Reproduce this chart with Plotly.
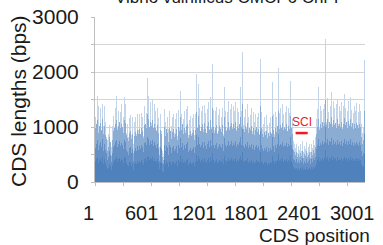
import numpy as np
import plotly.graph_objects as go

# ---------------- data ----------------
N_CDS = 2885  # CDS along chromosome I

# CDS lengths (bps) per position bin (~10.7 CDS per bin), left to right
len_top = [
    1180, 900, 1570, 1380, 960, 1350, 880, 1420, 1010, 1390,
    1100, 820, 760, 880, 1040, 700, 640, 1010, 1200, 920,
    1350, 1560, 980, 1300, 870, 1280, 1420, 940, 1180, 1540,
    1410, 900, 1050, 820, 1160, 1210, 860, 1180, 690, 1100,
    1190, 880, 1230, 950, 1240, 860, 1260, 1190, 840, 1380,
    1000, 1260, 1900, 1570, 960, 1450, 1080, 1500, 990, 1420,
    1290, 940, 1350, 1160, 640, 1230, 920, 560, 480, 1330,
    1100, 860, 1180, 960, 1300, 880, 1010, 1190, 1240, 900,
    1150, 1260, 840, 1310, 990, 1660, 1240, 900, 1150, 1290,
    940, 1320, 1390, 850, 1130, 1200, 880, 1160, 1230, 860,
    1240, 1960, 1000, 1780, 1350, 920, 1300, 1380, 960, 1400,
    1250, 900, 1320, 1460, 960, 1540, 1000, 2140, 1310, 940,
    1290, 1370, 900, 1220, 1330, 980, 1190, 1350, 880, 1720,
    1300, 950, 1280, 1480, 990, 1330, 1420, 1000, 1380, 1290,
    1450, 960, 1340, 1270, 1000, 1720, 1300, 2370, 1040, 1190,
    1330, 980, 1410, 1180, 940, 1220, 1340, 920, 1280, 1100,
    1230, 900, 1190, 1260, 880, 2230, 1280, 960, 1060, 1190,
    920, 1210, 1040, 860, 1080, 1190, 900, 1810, 1240, 880,
    1280, 1190, 960, 2080, 1260, 1350, 980, 1420, 1230, 940,
    1270, 1380, 920, 1340, 1260, 1840, 1000, 1150, 740, 690,
    620, 700, 520, 650, 580, 690, 560, 740, 540, 660,
    600, 720, 520, 640, 690, 540, 700, 620, 760, 680,
    820, 1150, 1320, 1720, 1000, 1380, 1290, 960, 1330, 1410,
    2600, 1100, 1520, 1280, 980, 1390, 1630, 1050, 1480, 1350,
    1000, 1420, 1510, 1060, 1390, 1300, 1450, 980, 1380, 1600,
    1350, 1020, 1290, 1470, 1060, 1540, 1310, 1000, 1250, 1380,
    1290, 1430, 980, 1280, 1410, 1300, 1050, 900, 980, 2220,
]
len_upper = [
    980, 1060, 1120, 900, 1010, 1080, 950, 1150, 870, 1020,
    860, 780, 560, 640, 820, 720, 480, 760, 930, 990,
    1050, 1120, 940, 1010, 1090, 980, 1060, 1000, 890, 1130,
    1080, 860, 800, 740, 900, 920, 780, 880, 520, 840,
    910, 830, 950, 870, 960, 880, 990, 920, 800, 1040,
    1060, 980, 1240, 1150, 1000, 1090, 1020, 1120, 980, 1060,
    990, 920, 1030, 890, 500, 940, 880, 450, 400, 1000,
    840, 960, 900, 720, 990, 930, 780, 910, 960, 820,
    880, 970, 760, 1000, 920, 1180, 950, 1050, 870, 990,
    900, 1010, 1060, 800, 860, 920, 830, 890, 940, 760,
    950, 1280, 990, 1200, 1030, 930, 1000, 1060, 910, 1070,
    960, 890, 1010, 1100, 940, 1120, 970, 1350, 1000, 900,
    990, 1040, 880, 930, 1010, 970, 910, 1030, 830, 1180,
    1000, 930, 980, 1090, 950, 1020, 1080, 970, 1050, 990,
    1100, 930, 1020, 980, 1060, 1190, 1000, 1420, 960, 910,
    1010, 970, 1070, 900, 990, 940, 1020, 880, 980, 850,
    940, 1000, 910, 970, 860, 1380, 980, 880, 820, 910,
    850, 930, 800, 890, 830, 910, 870, 1200, 950, 810,
    980, 910, 1010, 1300, 960, 1030, 990, 1080, 940, 1000,
    970, 1050, 930, 1020, 960, 1200, 990, 880, 580, 540,
    490, 540, 450, 510, 460, 530, 480, 570, 430, 510,
    470, 560, 450, 500, 540, 440, 550, 490, 580, 530,
    640, 880, 1000, 1150, 950, 1050, 990, 1100, 1020, 1070,
    1500, 1040, 1150, 980, 1090, 1060, 1180, 1000, 1120, 1030,
    1080, 990, 1140, 1020, 1060, 1000, 1100, 970, 1050, 1170,
    1030, 1090, 990, 1110, 1020, 1150, 1000, 1070, 960, 1050,
    990, 1080, 1030, 980, 1060, 1000, 820, 700, 760, 1300,
]
len_mid = [
    620, 700, 760, 590, 680, 720, 640, 780, 560, 690,
    580, 520, 400, 450, 560, 500, 360, 520, 630, 680,
    720, 760, 640, 690, 740, 660, 710, 680, 600, 770,
    730, 580, 540, 500, 610, 630, 530, 600, 380, 570,
    620, 560, 650, 590, 660, 600, 680, 630, 540, 710,
    720, 670, 820, 780, 680, 740, 690, 760, 660, 720,
    670, 620, 700, 600, 380, 640, 600, 340, 320, 680,
    570, 650, 610, 490, 670, 630, 530, 620, 650, 560,
    600, 660, 520, 680, 620, 800, 640, 710, 590, 670,
    610, 690, 720, 540, 580, 620, 560, 600, 640, 520,
    640, 860, 670, 810, 700, 630, 680, 720, 620, 730,
    650, 600, 690, 750, 640, 760, 660, 900, 680, 610,
    670, 710, 600, 630, 690, 660, 620, 700, 560, 800,
    680, 630, 670, 740, 650, 690, 740, 660, 710, 670,
    750, 630, 690, 670, 720, 810, 680, 960, 650, 620,
    690, 660, 730, 610, 670, 640, 690, 600, 670, 580,
    640, 680, 620, 660, 580, 930, 670, 600, 560, 620,
    580, 630, 540, 610, 560, 620, 590, 810, 650, 550,
    670, 620, 690, 880, 650, 700, 670, 730, 640, 680,
    660, 710, 630, 690, 650, 820, 670, 600, 420, 400,
    370, 410, 340, 390, 350, 400, 360, 430, 330, 380,
    350, 420, 340, 380, 410, 330, 420, 370, 440, 400,
    460, 600, 680, 780, 650, 710, 670, 750, 690, 730,
    1000, 710, 780, 670, 740, 720, 800, 680, 760, 700,
    730, 670, 770, 690, 720, 680, 750, 660, 710, 790,
    700, 740, 670, 750, 690, 780, 680, 730, 650, 710,
    670, 730, 700, 660, 720, 680, 560, 480, 520, 880,
]
len_base = [
    380, 420, 450, 340, 400, 430, 370, 460, 320, 410,
    340, 300, 230, 260, 330, 290, 210, 310, 370, 400,
    420, 450, 370, 410, 440, 390, 420, 400, 350, 460,
    430, 340, 310, 290, 360, 370, 300, 350, 220, 330,
    360, 320, 380, 340, 390, 350, 400, 370, 310, 420,
    430, 390, 480, 460, 400, 440, 410, 450, 390, 420,
    390, 360, 410, 350, 230, 370, 350, 200, 190, 400,
    330, 380, 350, 280, 390, 370, 310, 360, 380, 320,
    350, 390, 300, 400, 360, 470, 370, 420, 340, 390,
    350, 400, 420, 310, 340, 360, 320, 350, 370, 300,
    370, 500, 390, 470, 410, 360, 400, 420, 360, 430,
    380, 350, 400, 440, 370, 450, 390, 520, 400, 350,
    390, 420, 350, 370, 400, 380, 360, 410, 320, 470,
    400, 370, 390, 430, 380, 400, 430, 390, 410, 390,
    440, 370, 400, 390, 420, 470, 400, 550, 380, 360,
    400, 380, 430, 350, 390, 370, 400, 350, 390, 340,
    370, 400, 360, 380, 340, 540, 390, 350, 320, 360,
    340, 370, 310, 350, 320, 360, 340, 470, 380, 320,
    390, 360, 400, 510, 380, 410, 390, 430, 370, 400,
    380, 410, 370, 400, 380, 480, 390, 350, 270, 250,
    230, 260, 210, 250, 220, 260, 230, 280, 210, 240,
    220, 270, 210, 240, 260, 210, 270, 230, 280, 250,
    290, 350, 400, 450, 380, 420, 390, 440, 400, 430,
    580, 410, 460, 390, 430, 420, 470, 400, 450, 410,
    430, 390, 450, 400, 420, 400, 440, 380, 410, 460,
    410, 430, 390, 440, 400, 460, 400, 430, 380, 420,
    390, 430, 410, 380, 420, 400, 330, 280, 300, 510,
]

y_ticks = [0, 500, 1000, 1500, 2000, 2500, 3000]
y_tick_text = ["0", "", "1000", "", "2000", "", "3000"]
x_tick_labels = [1, 601, 1201, 1801, 2401, 3001]

sci_label = "SCI"
sci_start, sci_end, sci_len = 2144, 2273, 890

title_text = "Vibrio vulnificus CMCP6 Chr I"
x_title = "CDS position"
y_title = "CDS lengths (bps)"

# ---------------- figure ----------------
W, H = 383, 245
ML, MR, MT, MB = 95, 18, 17, 63
PW, PH = W - ML - MR, H - MT - MB

FONT = "Liberation Sans, Arial, Helvetica, sans-serif"
BLUE = (79, 129, 189)


def shade(f):
    r, g, b = [round(255 - f * (255 - c)) for c in BLUE]
    return f"rgb({r},{g},{b})"


nb = len(len_top)
bin_w = N_CDS / nb
xc = 0.5 + (np.arange(nb) + 0.5) * bin_w

fig = go.Figure()
for vals, f in [(len_top, 0.33), (len_upper, 0.66), (len_mid, 0.88), (len_base, 1.0)]:
    fig.add_trace(go.Bar(x=xc, y=vals, marker=dict(color=shade(f), line=dict(width=0)),
                         hoverinfo="skip", showlegend=False))

# SCI marker
fig.add_shape(type="line", xref="x", yref="y", x0=sci_start, x1=sci_end,
              y0=sci_len, y1=sci_len, line=dict(color="#ED1C24", width=2.5))
fig.add_annotation(x=(sci_start + sci_end) / 2, y=sci_len + 200, xref="x", yref="y",
                   text=sci_label, showarrow=False,
                   font=dict(family=FONT, size=12, color="#ED1C24"))

ann = []
# x tick labels (placed as in the original chart)
for v in x_tick_labels:
    px = 88.15 + (v - 1) * 0.08824
    ann.append(dict(x=(px - ML) / PW, y=(182 - 213) / PH, xref="paper", yref="paper",
                    text=str(v), showarrow=False, xanchor="center", yanchor="middle",
                    font=dict(family=FONT, size=20, color="#1a1a1a")))
# x title
ann.append(dict(x=(372 - ML) / PW, y=(182 - 235) / PH, xref="paper", yref="paper",
                text=x_title, showarrow=False, xanchor="right", yanchor="middle",
                font=dict(family=FONT, size=19, color="#1a1a1a")))
# y title
ann.append(dict(x=(19 - ML) / PW, y=(182 - 101) / PH, xref="paper", yref="paper",
                text=y_title, showarrow=False, textangle=-90, xanchor="center",
                yanchor="middle", font=dict(family=FONT, size=21, color="#1a1a1a")))
# chart title (cut off at top, as in the original)
ann.append(dict(x=(227 - ML) / PW, y=(182 - 8.6) / PH, xref="paper", yref="paper",
                text=title_text, showarrow=False, xanchor="center", yanchor="bottom",
                font=dict(family=FONT, size=17, color="#1a1a1a")))
for a in ann:
    fig.add_annotation(**a)

fig.update_layout(
    width=W, height=H,
    margin=dict(l=ML, r=MR, t=MT, b=MB, pad=0, autoexpand=False),
    paper_bgcolor="white", plot_bgcolor="white",
    barmode="overlay", bargap=0, bargroupgap=0,
    showlegend=False,
    font=dict(family=FONT, size=20, color="#1a1a1a"),
)
fig.update_xaxes(range=[0.5, N_CDS + 0.5], showgrid=False, zeroline=False,
                 showline=True, linecolor="#bfbfbf", linewidth=1, automargin=False,
                 tickmode="array", tickvals=[0.5 + 300 * k for k in range(10)],
                 ticks="outside", ticklen=3, tickcolor="#bfbfbf", showticklabels=False)
fig.update_yaxes(range=[0, 3000], tickmode="array", tickvals=y_ticks, ticktext=y_tick_text,
                 showgrid=True, gridcolor="#d4d4d4", gridwidth=1, zeroline=False,
                 showline=True, linecolor="#bfbfbf", linewidth=1, automargin=False,
                 ticks="outside", ticklen=3, tickcolor="#bfbfbf",
                 ticklabelstandoff=8,
                 tickfont=dict(family=FONT, size=21, color="#1a1a1a"))

fig.write_html("out.html",
               config={"displayModeBar": False},
               post_script="document.body.style.margin='0';document.body.style.overflow='hidden';")
